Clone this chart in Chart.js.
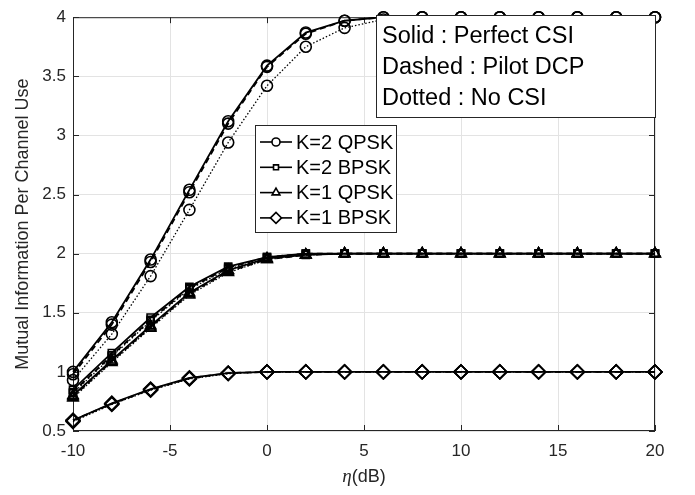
<!DOCTYPE html>
<html lang="en">
<head>
    <meta charset="UTF-8">
    <title>Mutual Information</title>
    <script src="https://cdn.jsdelivr.net/npm/chart.js"></script>
    <style>
        body {
            margin: 0;
            background: #fff;
        }
        canvas {
            display: block;
        }
    </style>
</head>
<body>

<canvas id="miChart" width="695" height="495"></canvas>

<script>
    // eta in dB
    var eta = [-10, -8, -6, -4, -2, 0, 2, 4, 6, 8, 10, 12, 14, 16, 18, 20];

    // K=2 QPSK
    var k2qpskSolid  = [1.00, 1.42, 1.95, 2.54, 3.12, 3.59, 3.87, 3.97, 4.00, 4.00, 4.00, 4.00, 4.00, 4.00, 4.00, 4.00];
    var k2qpskDashed = [0.98, 1.40, 1.93, 2.52, 3.10, 3.58, 3.86, 3.97, 4.00, 4.00, 4.00, 4.00, 4.00, 4.00, 4.00, 4.00];
    var k2qpskDotted = [0.93, 1.32, 1.81, 2.37, 2.94, 3.42, 3.75, 3.91, 3.98, 4.00, 4.00, 4.00, 4.00, 4.00, 4.00, 4.00];
    // K=2 BPSK
    var k2bpskSolid  = [0.85, 1.16, 1.46, 1.72, 1.89, 1.97, 2.00, 2.00, 2.00, 2.00, 2.00, 2.00, 2.00, 2.00, 2.00, 2.00];
    var k2bpskDashed = [0.83, 1.14, 1.44, 1.71, 1.88, 1.97, 2.00, 2.00, 2.00, 2.00, 2.00, 2.00, 2.00, 2.00, 2.00, 2.00];
    var k2bpskDotted = [0.82, 1.13, 1.43, 1.70, 1.87, 1.96, 1.99, 2.00, 2.00, 2.00, 2.00, 2.00, 2.00, 2.00, 2.00, 2.00];
    // K=1 QPSK
    var k1qpskSolid  = [0.80, 1.10, 1.39, 1.67, 1.86, 1.96, 1.99, 2.00, 2.00, 2.00, 2.00, 2.00, 2.00, 2.00, 2.00, 2.00];
    var k1qpskDashed = [0.79, 1.09, 1.38, 1.66, 1.85, 1.95, 1.99, 2.00, 2.00, 2.00, 2.00, 2.00, 2.00, 2.00, 2.00, 2.00];
    var k1qpskDotted = [0.78, 1.08, 1.37, 1.65, 1.84, 1.95, 1.99, 2.00, 2.00, 2.00, 2.00, 2.00, 2.00, 2.00, 2.00, 2.00];
    // K=1 BPSK
    var k1bpskSolid  = [0.59, 0.735, 0.855, 0.95, 0.99, 1.00, 1.00, 1.00, 1.00, 1.00, 1.00, 1.00, 1.00, 1.00, 1.00, 1.00];
    var k1bpskDashed = [0.59, 0.73, 0.85, 0.945, 0.99, 1.00, 1.00, 1.00, 1.00, 1.00, 1.00, 1.00, 1.00, 1.00, 1.00, 1.00];
    var k1bpskDotted = [0.58, 0.725, 0.845, 0.94, 0.985, 1.00, 1.00, 1.00, 1.00, 1.00, 1.00, 1.00, 1.00, 1.00, 1.00, 1.00];

    var seriesNames = ['K=2 QPSK', 'K=2 BPSK', 'K=1 QPSK', 'K=1 BPSK'];
    var markers = ['circle', 'rect', 'triangle', 'rectRot'];
    var markerSize = [5.5, 5, 6, 7];
    var noteLines = ['Solid : Perfect CSI', 'Dashed : Pilot DCP', 'Dotted : No CSI'];

    var FONT = '"Liberation Sans", Arial, sans-serif';
    var INK = '#262626';

    function series(vals, i, dash) {
        return {
            label: seriesNames[i],
            data: eta.map(function (x, j) { return { x: x, y: vals[j] }; }),
            borderColor: '#000',
            borderWidth: dash.length && dash[0] < 2 ? 1.3 : 1.8,
            borderDash: dash,
            backgroundColor: 'rgba(0,0,0,0)',
            pointStyle: markers[i],
            pointRadius: markerSize[i],
            pointBorderColor: '#000',
            pointBorderWidth: 1.6,
            pointBackgroundColor: 'rgba(0,0,0,0)',
            tension: 0,
            fill: false,
            clip: 10
        };
    }

    var solid = [], dashed = [6, 4], dotted = [1.5, 2];
    var datasets = [
        series(k2qpskDotted, 0, dotted), series(k2qpskDashed, 0, dashed), series(k2qpskSolid, 0, solid),
        series(k2bpskDotted, 1, dotted), series(k2bpskDashed, 1, dashed), series(k2bpskSolid, 1, solid),
        series(k1qpskDotted, 2, dotted), series(k1qpskDashed, 2, dashed), series(k1qpskSolid, 2, solid),
        series(k1bpskDotted, 3, dotted), series(k1bpskDashed, 3, dashed), series(k1bpskSolid, 3, solid)
    ];

    // axes box goes under the lines
    var axesBox = {
        id: 'axesBox',
        beforeDatasetsDraw: function (chart) {
            var ctx = chart.ctx, a = chart.chartArea;
            var xs = chart.scales.x, ys = chart.scales.y;
            ctx.save();
            ctx.strokeStyle = INK;
            ctx.lineWidth = 1;
            ctx.strokeRect(a.left + 0.5, a.top + 0.5, a.right - a.left - 1, a.bottom - a.top - 1);
            ctx.beginPath();
            xs.ticks.forEach(function (t) {
                var px = Math.round(xs.getPixelForValue(t.value)) + 0.5;
                ctx.moveTo(px, a.bottom); ctx.lineTo(px, a.bottom - 6);
                ctx.moveTo(px, a.top); ctx.lineTo(px, a.top + 6);
            });
            ys.ticks.forEach(function (t) {
                var py = Math.round(ys.getPixelForValue(t.value)) + 0.5;
                ctx.moveTo(a.left, py); ctx.lineTo(a.left + 6, py);
                ctx.moveTo(a.right, py); ctx.lineTo(a.right - 6, py);
            });
            ctx.stroke();
            ctx.restore();
        }
    };

    // legend, note and x title on top
    var decorations = {
        id: 'decorations',
        afterDatasetsDraw: function (chart) {
            var ctx = chart.ctx, a = chart.chartArea;
            ctx.save();

            // note box
            ctx.fillStyle = '#fff';
            ctx.fillRect(376, 15, 280, 103);
            ctx.strokeStyle = INK;
            ctx.lineWidth = 1;
            ctx.strokeRect(376.5, 15.5, 279, 102);
            ctx.fillStyle = '#000';
            ctx.font = '23.5px ' + FONT;
            ctx.textBaseline = 'middle';
            ctx.textAlign = 'left';
            noteLines.forEach(function (s, i) {
                ctx.fillText(s, 382, 37 + i * 31);
            });

            // legend
            ctx.fillStyle = '#fff';
            ctx.fillRect(255, 125, 142, 108);
            ctx.strokeRect(255.5, 125.5, 141, 107);
            ctx.font = '20px ' + FONT;
            seriesNames.forEach(function (s, i) {
                var y = 142 + i * 25.3;
                ctx.strokeStyle = '#000';
                ctx.lineWidth = 1.6;
                ctx.beginPath();
                ctx.moveTo(260, y); ctx.lineTo(292, y);
                ctx.stroke();
                ctx.fillStyle = '#fff';
                Chart.helpers.drawPoint(ctx, {
                    pointStyle: markers[i], radius: markerSize[i] - 1.5, borderWidth: 1.5
                }, 276, y);
                ctx.fillStyle = '#000';
                ctx.fillText(s, 296, y + 1);
            });

            // x axis title
            ctx.fillStyle = INK;
            var cx = (a.left + a.right) / 2;
            ctx.font = '18px ' + FONT;
            var wRest = ctx.measureText('(dB)').width;
            ctx.font = 'italic 19px "Liberation Serif", serif';
            var wEta = ctx.measureText('\u03B7').width;
            var x0 = cx - (wEta + wRest) / 2;
            ctx.fillText('\u03B7', x0, 477);
            ctx.font = '18px ' + FONT;
            ctx.fillText('(dB)', x0 + wEta, 477);

            ctx.restore();
        }
    };

    new Chart(document.getElementById('miChart').getContext('2d'), {
        type: 'line',
        data: { datasets: datasets },
        options: {
            responsive: false,
            animation: false,
            layout: { padding: { top: 11, right: 40, left: 0, bottom: 0 } },
            plugins: {
                legend: { display: false },
                tooltip: { enabled: false }
            },
            scales: {
                x: {
                    type: 'linear',
                    min: -10,
                    max: 20,
                    ticks: {
                        stepSize: 5,
                        padding: 10,
                        color: INK,
                        font: { family: FONT, size: 17 }
                    },
                    grid: { color: '#e3e3e3', drawTicks: false },
                    border: { display: false },
                    afterFit: function (scale) { scale.height = 64; }
                },
                y: {
                    min: 0.5,
                    max: 4,
                    ticks: {
                        stepSize: 0.5,
                        padding: 7,
                        color: INK,
                        font: { family: FONT, size: 17 },
                        callback: function (v) { return String(v); }
                    },
                    title: {
                        display: true,
                        text: 'Mutual Information Per Channel Use',
                        color: INK,
                        font: { family: FONT, size: 18 },
                        padding: { top: 12, bottom: 0 }
                    },
                    grid: { color: '#e3e3e3', drawTicks: false },
                    border: { display: false },
                    afterFit: function (scale) { scale.width = 73; }
                }
            }
        },
        plugins: [axesBox, decorations]
    });
</script>

</body>
</html>
